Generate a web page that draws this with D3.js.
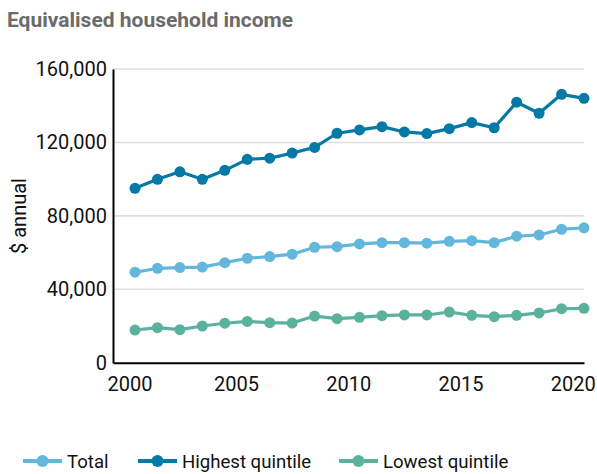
<!DOCTYPE html>
<html>
<head>
<meta charset="utf-8">
<script src="https://cdn.jsdelivr.net/npm/d3@7"></script>
<style>
  html, body { margin: 0; padding: 0; background: #fff; }
  svg { display: block; font-family: Roboto, "Noto Sans", sans-serif; }
</style>
</head>
<body>
<svg id="chart" width="597" height="474"></svg>
<script>
// Financial years starting 2000 ... 2020 (plotted mid-year)
const years = [2000,2001,2002,2003,2004,2005,2006,2007,2008,2009,2010,2011,2012,2013,2014,2015,2016,2017,2018,2019,2020];
const totalValues   = [49300,51400,51800,52100,54500,56900,57800,59100,62900,63200,64700,65400,65400,65100,66100,66500,65400,68900,69600,72700,73500];
const highestValues = [95000,99900,104000,99900,104800,110800,111400,114200,117300,125000,126800,128600,125700,124800,127500,130800,128000,141900,135900,146200,144000];
const lowestValues  = [17800,19100,18000,20000,21500,22500,21800,21600,25400,24000,24700,25600,26000,26000,27600,25800,25100,25800,27100,29400,29600];
const xTicks = [2000,2005,2010,2015,2020];
const yTicks = [0,40000,80000,120000,160000];
const seriesNames = ["Total","Highest quintile","Lowest quintile"];
const seriesColors = ["#63b7dd","#0479a6","#5bb29c"];
const titleText = "Equivalised household income";
const yTitle = "$ annual";

const svg = d3.select("#chart");
const pLeft = 113, pRight = 584, pTop = 69, pBottom = 362.7;

const x = d3.scaleLinear().domain([1999.52, 2020.5]).range([pLeft, pRight]);
const y = d3.scaleLinear().domain([0, 160000]).range([pBottom, pTop]);

// Title
svg.append("text").attr("x", 7).attr("y", 27)
  .attr("font-size", 21).attr("font-weight", 700).attr("fill", "#6b6b6b")
  .text(titleText);

// Gridlines
svg.append("g").selectAll("line").data(yTicks.filter(d => d > 0)).join("line")
  .attr("x1", pLeft).attr("x2", pRight)
  .attr("y1", d => y(d)).attr("y2", d => y(d))
  .attr("stroke", "#e2dede").attr("stroke-width", 1.6);

// Y axis
const yAxis = svg.append("g").attr("transform", `translate(${pLeft},0)`)
  .call(d3.axisLeft(y).tickValues(yTicks).tickSize(0).tickPadding(6).tickFormat(d3.format(",")));
yAxis.select(".domain").attr("stroke", "#000").attr("stroke-width", 2);
yAxis.selectAll("text").attr("font-size", 20).attr("fill", "#111").attr("font-family", "Roboto");

// X axis
const xAxis = svg.append("g").attr("transform", `translate(0,${pBottom})`)
  .call(d3.axisBottom(x).tickValues(xTicks).tickSize(0).tickPadding(14).tickFormat(d3.format("d")));
xAxis.select(".domain").attr("stroke", "#000").attr("stroke-width", 2);
xAxis.selectAll("text").attr("font-size", 20).attr("fill", "#111").attr("font-family", "Roboto");
// keep first label flush with the y axis area
xAxis.selectAll(".tick").filter((d, i) => i === 0).select("text")
  .attr("text-anchor", "start").attr("x", pLeft - 6 - x(xTicks[0]));

// Y title
svg.append("text")
  .attr("transform", `translate(26,216) rotate(-90)`)
  .attr("text-anchor", "middle").attr("font-size", 20).attr("fill", "#111")
  .text(yTitle);

// Series
const allSeries = [totalValues, highestValues, lowestValues];
const line = d3.line().x((d, i) => x(years[i] + 0.5)).y(d => y(d));
[0, 1, 2].forEach(si => {
  const g = svg.append("g");
  g.append("path").datum(allSeries[si])
    .attr("d", line).attr("fill", "none")
    .attr("stroke", seriesColors[si]).attr("stroke-width", 3.2)
    .attr("stroke-linejoin", "round");
  g.selectAll("circle").data(allSeries[si]).join("circle")
    .attr("cx", (d, i) => x(years[i] + 0.5)).attr("cy", d => y(d))
    .attr("r", 5.5).attr("fill", seriesColors[si]);
});

// Legend
const legendX = [23, 138, 339];
const lg = svg.append("g").attr("transform", "translate(0,461)");
seriesNames.forEach((name, i) => {
  const gi = lg.append("g").attr("transform", `translate(${legendX[i]},0)`);
  gi.append("line").attr("x1", 0).attr("x2", 39).attr("y1", 0).attr("y2", 0)
    .attr("stroke", seriesColors[i]).attr("stroke-width", 4);
  gi.append("circle").attr("cx", 19.5).attr("cy", 0).attr("r", 6).attr("fill", seriesColors[i]);
  gi.append("text").attr("x", 44).attr("y", 0).attr("dy", "0.36em")
    .attr("font-size", 18.6).attr("fill", "#111").text(name);
});
</script>
</body>
</html>
